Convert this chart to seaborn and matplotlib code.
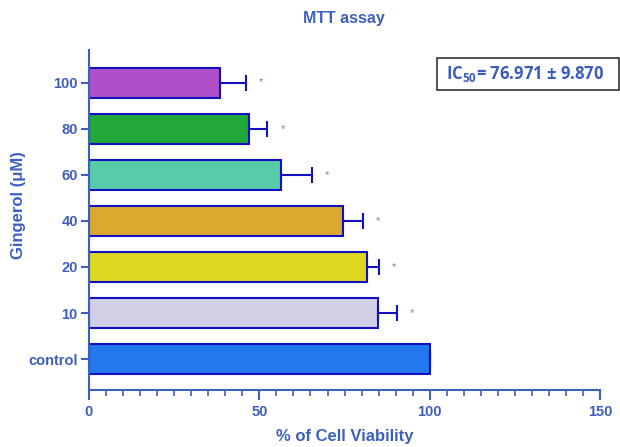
import numpy as np
import pandas as pd
import matplotlib
matplotlib.use("Agg")
import matplotlib.pyplot as plt
from matplotlib.patches import Rectangle
from matplotlib.ticker import MultipleLocator
import seaborn as sns

# data
doses = ["100", "80", "60", "40", "20", "10", "control"]
viability = [38.5, 47.0, 56.4, 74.6, 81.5, 84.9, 100.0]
errors = [7.6, 5.3, 9.0, 5.7, 3.5, 5.4, 0.0]
signif = ["*", "*", "*", "*", "*", "*", ""]
bar_colors = ["#b050c8", "#20a838", "#58cca8", "#dca830", "#dcd820",
              "#d2d0e6", "#2278ec"]

label_blue = "#3d5fc0"
edge_blue = "#1010c0"

sns.set_theme(style="white")
plt.rcParams["font.family"] = ["Liberation Sans", "DejaVu Sans"]
plt.rcParams["mathtext.fontset"] = "custom"
plt.rcParams["mathtext.rm"] = "Open Sans:bold"
plt.rcParams["mathtext.it"] = "Open Sans:bold"
plt.rcParams["mathtext.bf"] = "Open Sans:bold"

df = pd.DataFrame({"dose": doses, "viability": viability})

fig = plt.figure(figsize=(6.2, 4.47), dpi=100)
ax = fig.add_axes([0.1435, 0.1275, 0.8245, 0.76])

sns.barplot(data=df, x="viability", y="dose", order=doses, hue="dose",
            palette=bar_colors, saturation=1, legend=False, errorbar=None,
            width=0.65, edgecolor=edge_blue, linewidth=1.5, ax=ax)

ypos = np.arange(len(doses))
err = np.array(errors)
ax.errorbar(viability, ypos, xerr=[np.zeros_like(err), err], fmt="none",
            ecolor=edge_blue, elinewidth=1.5, capsize=5.5, capthick=1.5)

# significance stars
for i, s in enumerate(signif):
    if s:
        ax.text(viability[i] + errors[i] + 4.5, ypos[i], s, color="#7080b0",
                fontsize=8, ha="center", va="center")

ax.set_xlim(0, 150)
ax.set_ylim(6.67, -0.7)
ax.set_xticks([0, 50, 100, 150])
ax.xaxis.set_minor_locator(MultipleLocator(5))
ax.tick_params(axis="x", which="major", direction="out", length=7, width=1.5,
               colors=label_blue, bottom=True, pad=4)
ax.tick_params(axis="x", which="minor", direction="out", length=4, width=1.2,
               colors=label_blue, bottom=True)
ax.tick_params(axis="y", which="major", direction="out", length=6, width=1.5,
               colors=label_blue, left=True, pad=2)
for lab in ax.get_xticklabels() + ax.get_yticklabels():
    lab.set_fontweight("bold")
    lab.set_fontsize(10.5)

for side in ["top", "right"]:
    ax.spines[side].set_visible(False)
for side in ["left", "bottom"]:
    ax.spines[side].set_color(label_blue)
    ax.spines[side].set_linewidth(1.5)

ax.set_xlabel("")
ax.set_ylabel("")
fig.text(19 / 620, 1 - 205 / 447, "Gingerol (\u03bcM)", fontsize=12,
         fontweight="bold", color=label_blue, ha="center", va="center",
         rotation=90)
fig.text(345 / 620, 1 - 437 / 447, "% of Cell Viability", fontsize=12,
         fontweight="bold", color=label_blue, ha="center", va="center")
fig.text(344 / 620, 1 - 19 / 447, "MTT assay", fontsize=11.5,
         fontweight="bold", color=label_blue, ha="center", va="center")

# IC50 box
fig.patches.append(Rectangle((437 / 620, 1 - 90 / 447), 182 / 620, 32 / 447,
                             transform=fig.transFigure, fill=False,
                             edgecolor="#333333", linewidth=1.2))
fig.text(446 / 620, 1 - 74 / 447, "IC$_{50}$= 76.971 \u00b1 9.870",
         fontsize=12, fontweight="bold", family="Open Sans",
         color="#3a5cc0", ha="left", va="center")

fig.savefig("out.png", dpi=100)
